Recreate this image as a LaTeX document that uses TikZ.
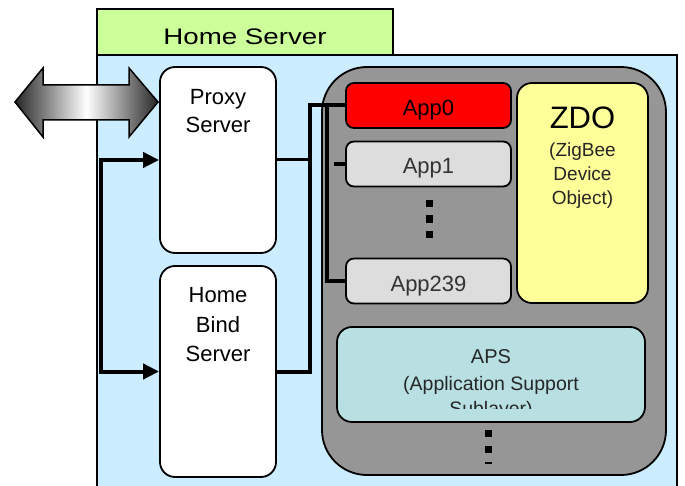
\documentclass[tikz,border=0pt]{standalone}
\usepackage{fontspec}
\usepackage{graphicx}
\setmainfont{Liberation Sans}
\usetikzlibrary{arrows.meta}
\definecolor{titlegreen}{HTML}{CCFF99}
\definecolor{serverblue}{HTML}{CCECFF}
\definecolor{stackgray}{HTML}{969696}
\definecolor{appgray}{HTML}{DDDDDD}
\definecolor{zdoyellow}{HTML}{FFFF99}
\definecolor{apsteal}{HTML}{B8DFE2}
\definecolor{apptext}{HTML}{333333}
\begin{document}
\begin{tikzpicture}[x=1pt,y=-1pt,
  box/.style={draw=black, line width=1.8pt, rounded corners=15pt, inner sep=0pt},
  appbox/.style={draw=black, line width=1.8pt, rounded corners=8pt, minimum width=165pt,
    minimum height=45pt, inner sep=0pt, text height=20pt, text depth=0pt,
    font=\fontsize{22}{26}\selectfont},
  txt/.style={align=center, inner sep=0pt},
  conn/.style={line width=4pt},
  thinconn/.style={line width=3pt},
  dot/.style={fill=black, minimum size=7.5pt, inner sep=0pt}
]
\useasboundingbox (0,0) rectangle (685,486);

% Home Server area
\fill[serverblue] (97,55) rectangle (677,490);
\draw[line width=1.8pt] (97,490) -- (97,55) -- (677,55) -- (677,490);
\node[draw=black, line width=1.8pt, fill=titlegreen, minimum width=296pt, minimum height=46pt, inner sep=0pt] (title) at (245,32) {};
\node[txt, anchor=base, font=\fontsize{22.5}{26}\selectfont] (titlet) at (245,45) {\scalebox{1.23}[1]{Home Server}};

% external double arrow
\draw[line width=1.5pt, left color=black!85, right color=black!85, middle color=white]
  (15,102) -- (43,68) -- (43,85) -- (129,85) -- (129,68) -- (158,102)
  -- (129,137) -- (129,120) -- (43,120) -- (43,137) -- cycle;

% servers
\node[box, fill=white, minimum width=116pt, minimum height=186pt] (proxy) at (218,160) {};
\node[txt, font=\fontsize{22}{28.5}\selectfont] (proxyt) at (218,111) {Proxy\\Server};
\node[box, fill=white, minimum width=116pt, minimum height=211pt] (bind) at (218,371.5) {};
\node[txt, font=\fontsize{22}{29.5}\selectfont] (bindt) at (218,325) {Home\\Bind\\Server};

% ZigBee stack
\node[draw=black, line width=1.8pt, fill=stackgray, rounded corners=45pt, minimum width=344pt, minimum height=408pt, inner sep=0pt] (stack) at (494,271) {};

\node[appbox, fill=red] (app0) at (428.5,105.5) {App0};
\node[appbox, fill=appgray, text=apptext] (app1) at (428.5,164) {App1};
\node[appbox, fill=appgray, text=apptext] (app239) at (428.5,281) {App239};
\node[dot] (d1) at (429.5,203.5) {};
\node[dot] (d2) at (429.5,219) {};
\node[dot] (d3) at (429.5,234.5) {};

\node[box, fill=zdoyellow, minimum width=131pt, minimum height=220pt] (zdo) at (582.5,193) {};
\node[txt, font=\fontsize{31}{31}\selectfont] (zdot) at (582.5,118) {ZDO};
\node[txt, font=\fontsize{19}{24}\selectfont, text=black!85] (zdosub) at (582.5,176) {(ZigBee\\Device\\Object)};

\node[box, fill=apsteal, minimum width=308pt, minimum height=95pt] (aps) at (491,374.5) {};
\node[txt, anchor=base, font=\fontsize{20}{20}\selectfont, text=black!85] (apst) at (491,363) {APS};
\node[txt, anchor=base, font=\fontsize{19.5}{24}\selectfont, text=black!85] (apssub) at (491,390) {(Application Support};
\begin{scope}
  \clip (337,395) rectangle (645,408.5);
  \node[txt, anchor=base, font=\fontsize{19.5}{24}\selectfont, text=black!85] (apssub2) at (491,415) {Sublayer)};
\end{scope}

\node[dot] (e1) at (488.5,433.5) {};
\node[dot] (e2) at (488.5,449.5) {};
\node[fill=black, minimum width=7.5pt, minimum height=2.5pt, inner sep=0pt] (e3) at (488.5,463) {};

% connectors
\coordinate (j1) at (310,105.5);
\coordinate (j2) at (327,105.5);
\coordinate (t1) at (334,164);
\draw[conn, {Triangle[length=16pt,width=15pt]}-{Triangle[length=16pt,width=15pt]}]
  (proxy.west) -- ++(-58,0) |- (bind.west);
\draw[thinconn] (proxy.east) -- (proxy.east -| j1);
\draw[conn] (bind.east) -| (j1) -- (app0.west);
\draw[conn] (j2) |- (app239.west);
\draw[conn] (t1) -- (app1.west);
\end{tikzpicture}
\end{document}
